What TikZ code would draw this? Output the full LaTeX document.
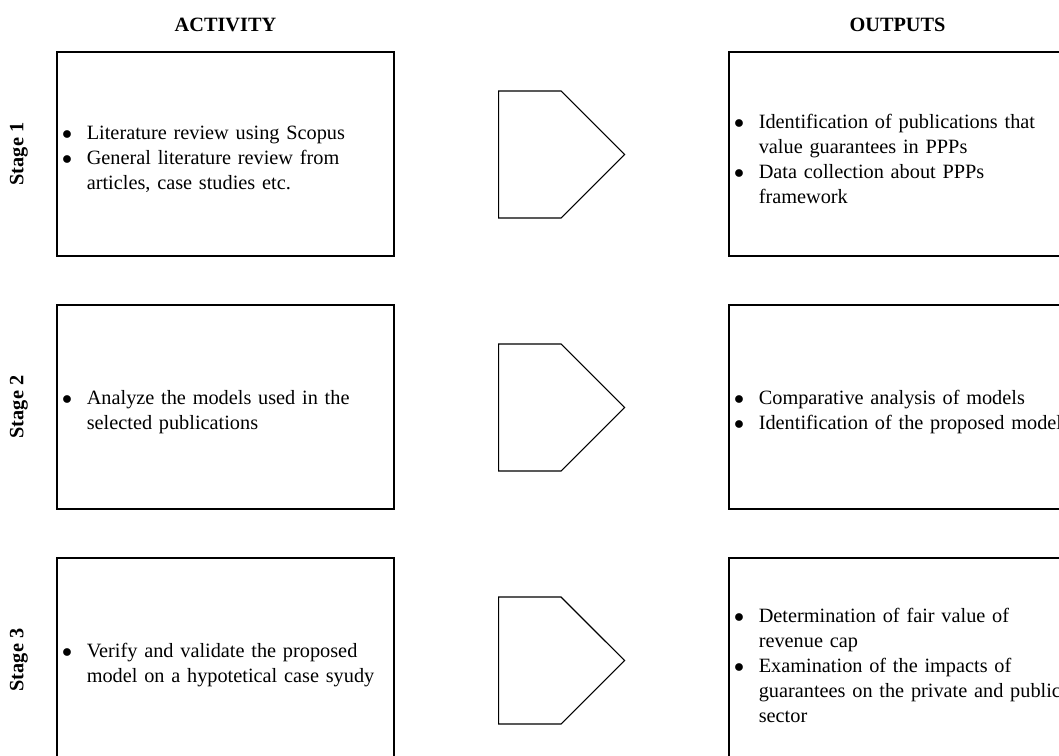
\documentclass[tikz,border=0pt]{standalone}
\usepackage{fontspec}
\setmainfont{Liberation Serif}
\usepackage{enumitem}
\usetikzlibrary{shapes.symbols}
\newlist{bullets}{itemize}{1}
\setlist[bullets]{label=$\bullet$, nosep, leftmargin=12.3pt, labelwidth=12.3pt, labelsep=0pt, align=left}
\tikzset{
  box/.style={draw, line width=0.6pt, minimum width=168.5pt, minimum height=102pt, inner sep=0pt},
  txt/.style={anchor=west, inner sep=0pt, text width=164.3pt, font=\fontsize{10.15}{12.5}\selectfont},
  head/.style={font=\fontsize{10.15}{12.5}\selectfont\bfseries},
  stage/.style={rotate=90, font=\fontsize{10.15}{12.5}\selectfont\bfseries},
  pointer/.style={draw, line width=0.6pt, shape=signal, signal to=east, anchor=west,
    minimum width=63pt, minimum height=63.5pt, inner sep=0pt}
}
\begin{document}
\begin{tikzpicture}[x=0.5pt,y=-0.5pt]
      \useasboundingbox (0,0) rectangle (1059,755);
      \clip (0,0) rectangle (1059,755);
      \node[head] (act) at (225.5,25) {ACTIVITY};
      \node[head] (out) at (897.5,25) {OUTPUTS};
      % stage 1
      \node[stage] (s1) at (19,154) {Stage 1};
      \node[box] (a1) at (225.5,154) {};
      \node[txt, xshift=2.7pt] (ta1) at (a1.west) {\raggedright
        \begin{bullets}
          \item Literature review using Scopus
          \item General literature review from articles, case studies etc.
        \end{bullets}};
      \node[pointer] (p1) at (498,154.5) {};
      \node[box] (o1) at (897.5,154) {};
      \node[txt, xshift=2.7pt] (to1) at (o1.west) {\raggedright
        \begin{bullets}
          \item Identification of publications that value guarantees in PPPs
          \item Data collection about PPPs framework
        \end{bullets}};
      % stage 2
      \node[stage] (s2) at (19,407) {Stage 2};
      \node[box] (a2) at (225.5,407) {};
      \node[txt, xshift=2.7pt] (ta2) at (a2.west) {\raggedright
        \begin{bullets}
          \item Analyze the models used in the selected publications
        \end{bullets}};
      \node[pointer] (p2) at (498,407.5) {};
      \node[box] (o2) at (897.5,407) {};
      \node[txt, xshift=2.7pt] (to2) at (o2.west) {\raggedright
        \begin{bullets}
          \item Comparative analysis of models
          \item Identification of the proposed model
        \end{bullets}};
      % stage 3
      \node[stage] (s3) at (19,660) {Stage 3};
      \node[box] (a3) at (225.5,660) {};
      \node[txt, xshift=2.7pt] (ta3) at (a3.west) {\raggedright
        \begin{bullets}
          \item Verify and validate the proposed model on a hypotetical case syudy
        \end{bullets}};
      \node[pointer] (p3) at (498,660.5) {};
      \node[box] (o3) at (897.5,660) {};
      \node[txt, xshift=2.7pt] (to3) at (o3.west) {\raggedright
        \begin{bullets}
          \item Determination of fair value of revenue cap
          \item Examination of the impacts of guarantees on the private and public sector
        \end{bullets}};
    \end{tikzpicture}
\end{document}
